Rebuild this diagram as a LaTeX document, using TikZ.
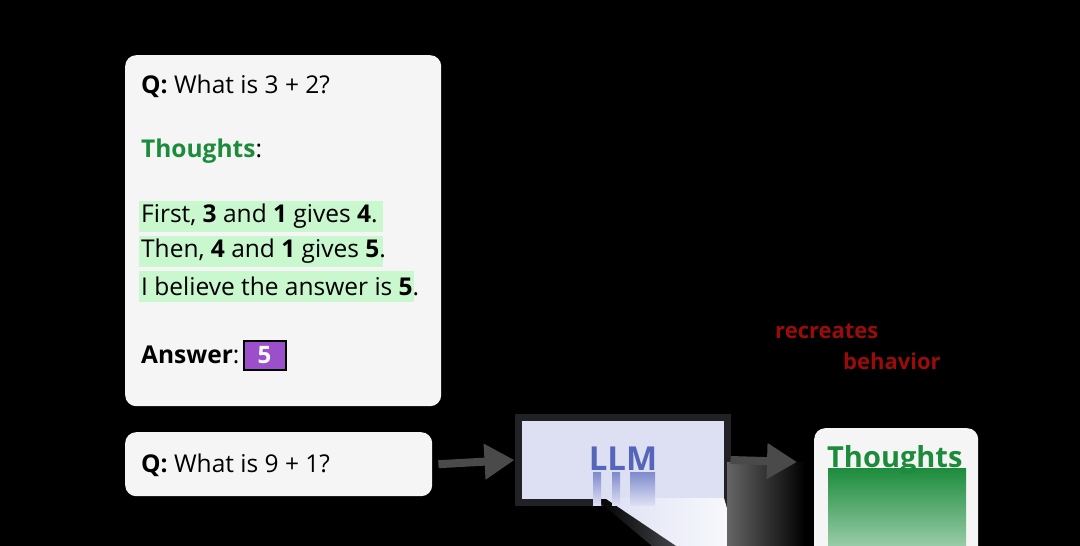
\documentclass[tikz,border=0pt]{standalone}
\usepackage{fontspec}
\setmainfont{Open Sans}
\usetikzlibrary{arrows.meta,shapes.geometric}
\definecolor{boxbg}{HTML}{F5F5F5}
\definecolor{thgreen}{HTML}{1C8C3C}
\definecolor{hlgreen}{HTML}{C9F7CE}
\definecolor{ansbg}{HTML}{9C4FCB}
\definecolor{llmbg}{HTML}{DDE0F3}
\definecolor{llmtxt}{HTML}{5565BA}
\definecolor{llmedge}{HTML}{222226}
\definecolor{arrowgray}{HTML}{4A4A4A}
\definecolor{recred}{HTML}{9A0C0C}
\tikzset{
  card/.style={fill=boxbg, rounded corners=11pt, draw=none},
  txt/.style={anchor=base west, inner sep=0pt, font=\fontsize{24.5}{28}\selectfont, text=black},
  hl/.style={anchor=west, fill=hlgreen, inner sep=0pt, minimum height=31pt},
  ansbox/.style={fill=ansbg, draw=black, line width=2pt, minimum width=42pt, minimum height=29pt, inner sep=0pt, text=white, font=\fontsize{24}{28}\selectfont\bfseries},
  llmbox/.style={fill=llmbg, draw=llmedge, line width=7pt, minimum width=209pt, minimum height=85pt, inner sep=0pt},
  arr/.style={draw=arrowgray, line width=8pt, -{Triangle[length=30pt,width=34pt]}},
  red/.style={text=recred, font=\fontsize{22}{26}\selectfont\bfseries, inner sep=0pt, anchor=base west},
}
\begin{document}
\begin{tikzpicture}[x=1pt,y=-1pt]
\path[fill=black] (0,0) rectangle (1080,546);
\useasboundingbox (0,0) rectangle (1080,546);
% example card
\node[card, anchor=north west, minimum width=316pt, minimum height=351pt] (ex) at (125,55) {};
\node[txt] (q1) at (141,93) {\textbf{Q:} What is 3 + 2?};
\node[txt] (th1) at (141,157) {\textcolor{thgreen}{\textbf{Thoughts}}:};
\node[hl, minimum width=244pt] (l1) at (139,216) {};
\node[hl, minimum width=244pt] (l2) at (139,251) {};
\node[hl, minimum width=275pt] (l3) at (139,286) {};
\node[txt, anchor=west] (l1t) at ([xshift=2pt]l1.west) {First, \textbf{3} and \textbf{1} gives \textbf{4}.};
\node[txt, anchor=west] (l2t) at ([xshift=2pt]l2.west) {Then, \textbf{4} and \textbf{1} gives \textbf{5}.};
\node[txt, anchor=west] (l3t) at ([xshift=2pt]l3.west) {I believe the answer is \textbf{5}.};
\node[txt] (ans) at (141,363) {\textbf{Answer}:};
\node[ansbox] (five) at (264.5,355) {5};
% query card
\node[card, anchor=north west, minimum width=307pt, minimum height=64pt] (q2box) at (125,432) {};
\node[txt] (q2) at (141,472) {\textbf{Q:} What is 9 + 1?};
% LLM
\node[llmbox] (llm) at (622.5,460) {};
\node[text=llmtxt, font=\fontsize{33}{36}\selectfont\bfseries] (llmt) at (623,459) {LLM};
% smear below LLM
\shade[left color=llmbg, right color=white!85!llmbg] (600,498) -- (724,498) -- (738,546) -- (668,546) -- cycle;
\shade[left color=black, right color=black!70!llmbg] (596,499) -- (606,499) -- (676,546) -- (652,546) -- cycle;
\shade[top color=llmtxt!70!llmbg, bottom color=llmbg] (593,472) rectangle (601,505);
\shade[top color=llmtxt!70!llmbg, bottom color=llmbg] (612,472) rectangle (620,505);
\shade[top color=llmtxt!70!llmbg, bottom color=llmbg] (630,472) rectangle (655,505);
\shade[left color=arrowgray!85, right color=black] (727,462) rectangle (805,546);
% arrows
\draw[arr] (q2box.east) ++(6,0) coordinate (a1s) -- (llm.west);
\coordinate (a2e) at (797,462);
\draw[arr] (llm.east) -- (a2e);
% recreates behavior
\node[red] (rec) at (775,338) {recreates};
\node[red] (beh) at (843,369) {behavior};
% thoughts output card
\node[card, anchor=north west, minimum width=164pt, minimum height=130pt] (tc) at (814,428) {};
\shade[top color=thgreen, bottom color=thgreen!45!white] (828,468) rectangle (966,546);
\node[anchor=base west, inner sep=0pt, text=thgreen, font=\fontsize{29}{32}\selectfont\bfseries] (tht) at (827,467) {Thoughts};
\end{tikzpicture}
\end{document}
